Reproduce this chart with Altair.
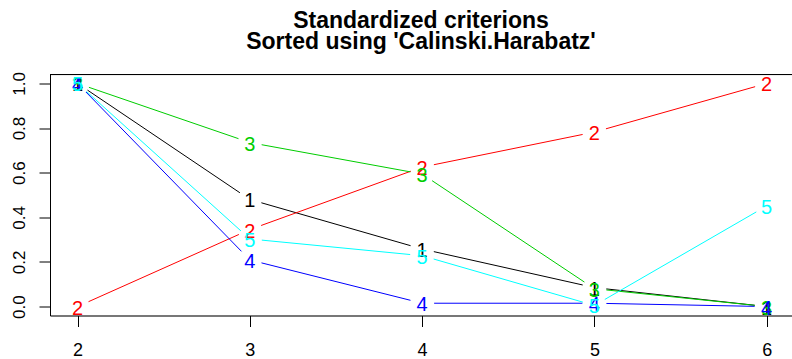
import altair as alt
import pandas as pd
import math

# ---- data ----
x_vals = [2, 3, 4, 5, 6]
series_names = ["1", "2", "3", "4", "5"]
s1 = [1.0, 0.48, 0.258, 0.085, 0.0]
s2 = [0.0, 0.345, 0.625, 0.782, 1.0]
s3 = [1.0, 0.735, 0.594, 0.08, 0.0]
s4 = [1.0, 0.209, 0.015, 0.015, 0.0]
s5 = [1.0, 0.303, 0.228, 0.005, 0.451]
colors = ["#000000", "#FF0000", "#00CD00", "#0000FF", "#00FFFF"]
y_ticks = [0.0, 0.2, 0.4, 0.6, 0.8, 1.0]

W, H = 742, 241
XD = [1.84, 6.147]
YD = [-0.04, 1.04]
GAP = 12  # pixel gap around each label (R type = "b")

all_series = [s1, s2, s3, s4, s5]

pts = []
segs = []
px_x = W / (XD[1] - XD[0])
px_y = H / (YD[1] - YD[0])
for name, vals in zip(series_names, all_series):
    for xv, yv in zip(x_vals, vals):
        pts.append({"series": name, "x": xv, "y": yv})
    for i in range(len(x_vals) - 1):
        x0, x1 = x_vals[i], x_vals[i + 1]
        y0, y1 = vals[i], vals[i + 1]
        L = math.hypot((x1 - x0) * px_x, (y1 - y0) * px_y)
        if L <= 2 * GAP:
            continue
        f = GAP / L
        segs.append({
            "series": name,
            "x": x0 + f * (x1 - x0), "y": y0 + f * (y1 - y0),
            "x2": x1 - f * (x1 - x0), "y2": y1 - f * (y1 - y0),
        })

pts_df = pd.DataFrame(pts)
segs_df = pd.DataFrame(segs)

FONT = "Liberation Sans"

xscale = alt.Scale(domain=XD, nice=False, zero=False)
yscale = alt.Scale(domain=YD, nice=False, zero=False)
cscale = alt.Scale(domain=series_names, range=colors)

xaxis = alt.Axis(values=x_vals, format="d", title=None, grid=False,
                 labelFontSize=18, labelFont=FONT, labelColor="black",
                 tickSize=11, tickColor="black", domainColor="black",
                 labelPadding=15, labelFlush=False)
yaxis = alt.Axis(values=y_ticks, format=".1f", title=None, grid=False,
                 labelFontSize=17, labelFont=FONT, labelColor="black",
                 labelAngle=270, labelAlign="center", labelBaseline="alphabetic",
                 tickSize=11, tickColor="black", domainColor="black",
                 labelPadding=15, labelFlush=False)

layers = []
for name in series_names:
    seg_layer = alt.Chart(segs_df).transform_filter(
        alt.datum.series == name
    ).mark_rule(strokeWidth=1).encode(
        x=alt.X("x:Q", scale=xscale, axis=xaxis),
        y=alt.Y("y:Q", scale=yscale, axis=yaxis),
        x2="x2:Q",
        y2="y2:Q",
        color=alt.Color("series:N", scale=cscale, legend=None),
    )
    txt_layer = alt.Chart(pts_df).transform_filter(
        alt.datum.series == name
    ).mark_text(fontSize=20, font=FONT, align="center", baseline="middle", dy=2).encode(
        x=alt.X("x:Q", scale=xscale, axis=xaxis),
        y=alt.Y("y:Q", scale=yscale, axis=yaxis),
        text="series:N",
        color=alt.Color("series:N", scale=cscale, legend=None),
    )
    layers += [seg_layer, txt_layer]

top_border = alt.Chart(pd.DataFrame({"a": [0]})).mark_rule(
    color="black", strokeWidth=1
).encode(x=alt.value(0), x2=alt.value(W), y=alt.value(0))
layers.append(top_border)

chart = alt.layer(*layers).properties(
    width=W,
    height=H,
    autosize=alt.AutoSizeParams(type="none"),
    padding={"left": 50, "top": 74.5, "right": 0, "bottom": 43.5},
    title=alt.Title(
        ["Standardized criterions", "Sorted using 'Calinski.Harabatz'"],
        font=FONT,
        fontSize=23, fontWeight="bold", lineHeight=21,
        anchor="middle", offset=18, color="black",
    ),
).configure_view(stroke=None).configure(background="white")

chart.save("out.html", embed_options={"renderer": "svg", "actions": False})
